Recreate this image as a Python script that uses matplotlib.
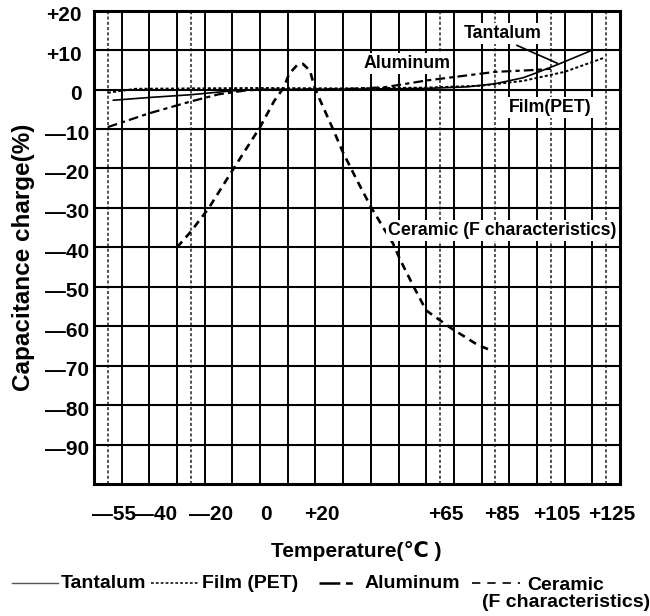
#!/usr/bin/env python3

import matplotlib
matplotlib.use("Agg")
import matplotlib.pyplot as plt
from matplotlib.lines import Line2D
from matplotlib.transforms import ScaledTranslation


# Capacitance change vs temperature
tantalum_t = [-53, -40, -25, -10, 0, 30, 60, 75, 85, 95, 100, 108, 120]
tantalum_c = [-2.7, -2.0, -1.3, -0.3, 0.0, 0.1, 0.3, 0.7, 1.5, 3.0, 4.3, 6.5, 10.0]

film_t = [-55, -45, -25, 0, 30, 60, 80, 95, 110, 124]
film_c = [-0.8, 0.2, 0.3, 0.4, 0.3, 0.5, 1.0, 2.2, 4.5, 8.0]

aluminum_t = [-55, -40, -25, -15, -5, 0, 30, 45, 60, 85, 100, 105]
aluminum_c = [-9.5, -6.0, -3.0, -1.2, -0.2, 0.0, 0.1, 0.6, 2.3, 4.5, 5.0, 5.3]

ceramic_t = [-30, -25, -18.5, -10, 0, 5, 8.5, 10.5, 13.5, 15.5, 18, 19.7, 21.5,
	26, 30, 35, 40, 44.5, 48, 50.5, 55.5, 60, 65, 69, 74, 78.5, 83]
ceramic_c = [-40, -36, -30, -20.5, -9.5, -3, 0.5, 4, 6.3, 6.5, 4.8, 0.6, -2.4,
	-9.5, -16, -23, -29.7, -35, -39, -43, -50, -56, -58.5, -60.5, -62.7, -64.7, -66]

# Axis ticks and grid
x_ticks = [-55, -40, -20, 0, 20, 65, 85, 105, 125]
x_labels = ["\u201455", "\u201440", "\u201420", "0", "+20", "+65", "+85", "+105", "+125"]
y_ticks = [20, 10, 0, -10, -20, -30, -40, -50, -60, -70, -80, -90]
y_labels = ["+20", "+10", "0"] + ["\u2014%d" % -v for v in y_ticks[3:]]
grid_solid = list(range(-50, 130, 10))
grid_dotted = [-55, -25, 65, 85, 105, 125]

FONT = ["Liberation Sans", "DejaVu Sans"]


def main():
	plt.rcParams["font.family"] = FONT
	plt.rcParams["font.weight"] = "bold"
	plt.rcParams["lines.scale_dashes"] = False

	fig = plt.figure(figsize=(6.5, 6.16), dpi=100)
	ax = fig.add_axes([0.1446, 0.2143, 0.8092, 0.7683])
	ax.set_xlim(-60, 130)
	ax.set_ylim(-100, 20)

	# grid drawn by hand, the dotted ones are the standard temperatures
	for x in grid_solid:
		ax.axvline(x, color="black", lw=1.4, zorder=1)
	for x in grid_dotted:
		ax.axvline(x, color="#444444", lw=1.3, ls=(0, (2.2, 1.6)), zorder=1)
	for y in y_ticks[1:]:
		ax.axhline(y, color="black", lw=1.5, zorder=1)

	ax.plot(tantalum_t, tantalum_c, color="black", lw=1.2, zorder=3)
	ax.plot(film_t, film_c, color="black", lw=1.4, ls=(0, (2.2, 1.6)), zorder=3)
	ax.plot(aluminum_t, aluminum_c, color="black", lw=1.6, ls=(0, (7, 3, 3, 3)), zorder=3)
	ax.plot(ceramic_t, ceramic_c, color="black", lw=1.9, ls=(0, (5.5, 4)), zorder=3)

	box = dict(facecolor="white", edgecolor="none", pad=1.5)
	ax.text(87.8, 14.3, "Tantalum", ha="center", va="center", fontsize=12.8, bbox=box, zorder=4)
	ax.plot([92.8, 107.3], [11.2, 6.7], color="black", lw=1.2, zorder=4)
	ax.text(53.1, 6.7, "Aluminum", ha="center", va="center", fontsize=12.8, bbox=box, zorder=4)
	ax.text(104.7, -4.5, "Film(PET)", ha="center", va="center", fontsize=12.8, bbox=box, zorder=4)
	ax.text(46.2, -35.7, "Ceramic (F characteristics)", ha="left", va="center", fontsize=12.8,
		bbox=box, zorder=4)

	ax.set_xticks(x_ticks)
	ax.set_xticklabels(x_labels)
	ax.set_yticks(y_ticks)
	ax.set_yticklabels(y_labels)
	ax.tick_params(axis="x", length=0, pad=15, labelsize=15)
	ax.tick_params(axis="y", length=0, pad=9, labelsize=15)

	# the labels in the picture sit a bit off their lines
	for lab in ax.get_xticklabels():
		lab.set_transform(lab.get_transform() + ScaledTranslation(6 / 100, 0, fig.dpi_scale_trans))
	for lab in ax.get_yticklabels():
		dx = 8 / 100 if lab.get_text().startswith("\u2014") else 0
		lab.set_transform(lab.get_transform() + ScaledTranslation(dx, -3 / 100, fig.dpi_scale_trans))

	for side in ax.spines.values():
		side.set_linewidth(2.2)
		side.set_zorder(5)

	ax.set_ylabel("Capacitance charge(%)", fontsize=17.5, fontweight="bold")
	ax.yaxis.set_label_coords(-0.112, 0.48)
	ax.set_xlabel("Temperature(\u2103 )", fontsize=15, fontweight="bold")
	ax.xaxis.set_label_coords(0.498, -0.12)

	# legend along the bottom, written out by hand
	def fx(px):
		return px / 650

	def fy(py):
		return 1 - py / 616

	y0 = fy(583)
	fig.add_artist(Line2D([fx(12), fx(58)], [y0, y0], color="#555555", lw=1.0))
	fig.text(fx(61), y0, "Tantalum", ha="left", va="center", fontsize=14)
	fig.add_artist(Line2D([fx(151), fx(199)], [y0, y0], color="black", lw=1.1, ls=(0, (2, 1.5))))
	fig.text(fx(202), y0, "Film (PET)", ha="left", va="center", fontsize=14)
	fig.add_artist(Line2D([fx(319), fx(356)], [y0, y0], color="black", lw=1.8, ls=(0, (15, 4, 5, 4))))
	fig.text(fx(365), y0, "Aluminum", ha="left", va="center", fontsize=14)
	fig.add_artist(Line2D([fx(472), fx(520)], [y0, y0], color="black", lw=1.2, ls=(0, (6, 5))))
	fig.text(fx(566), fy(594), "Ceramic\n(F characteristics)", ha="center", va="center",
		fontsize=14, linespacing=1.05)

	fig.savefig("out.png", dpi=100)


if __name__ == "__main__":
	main()
